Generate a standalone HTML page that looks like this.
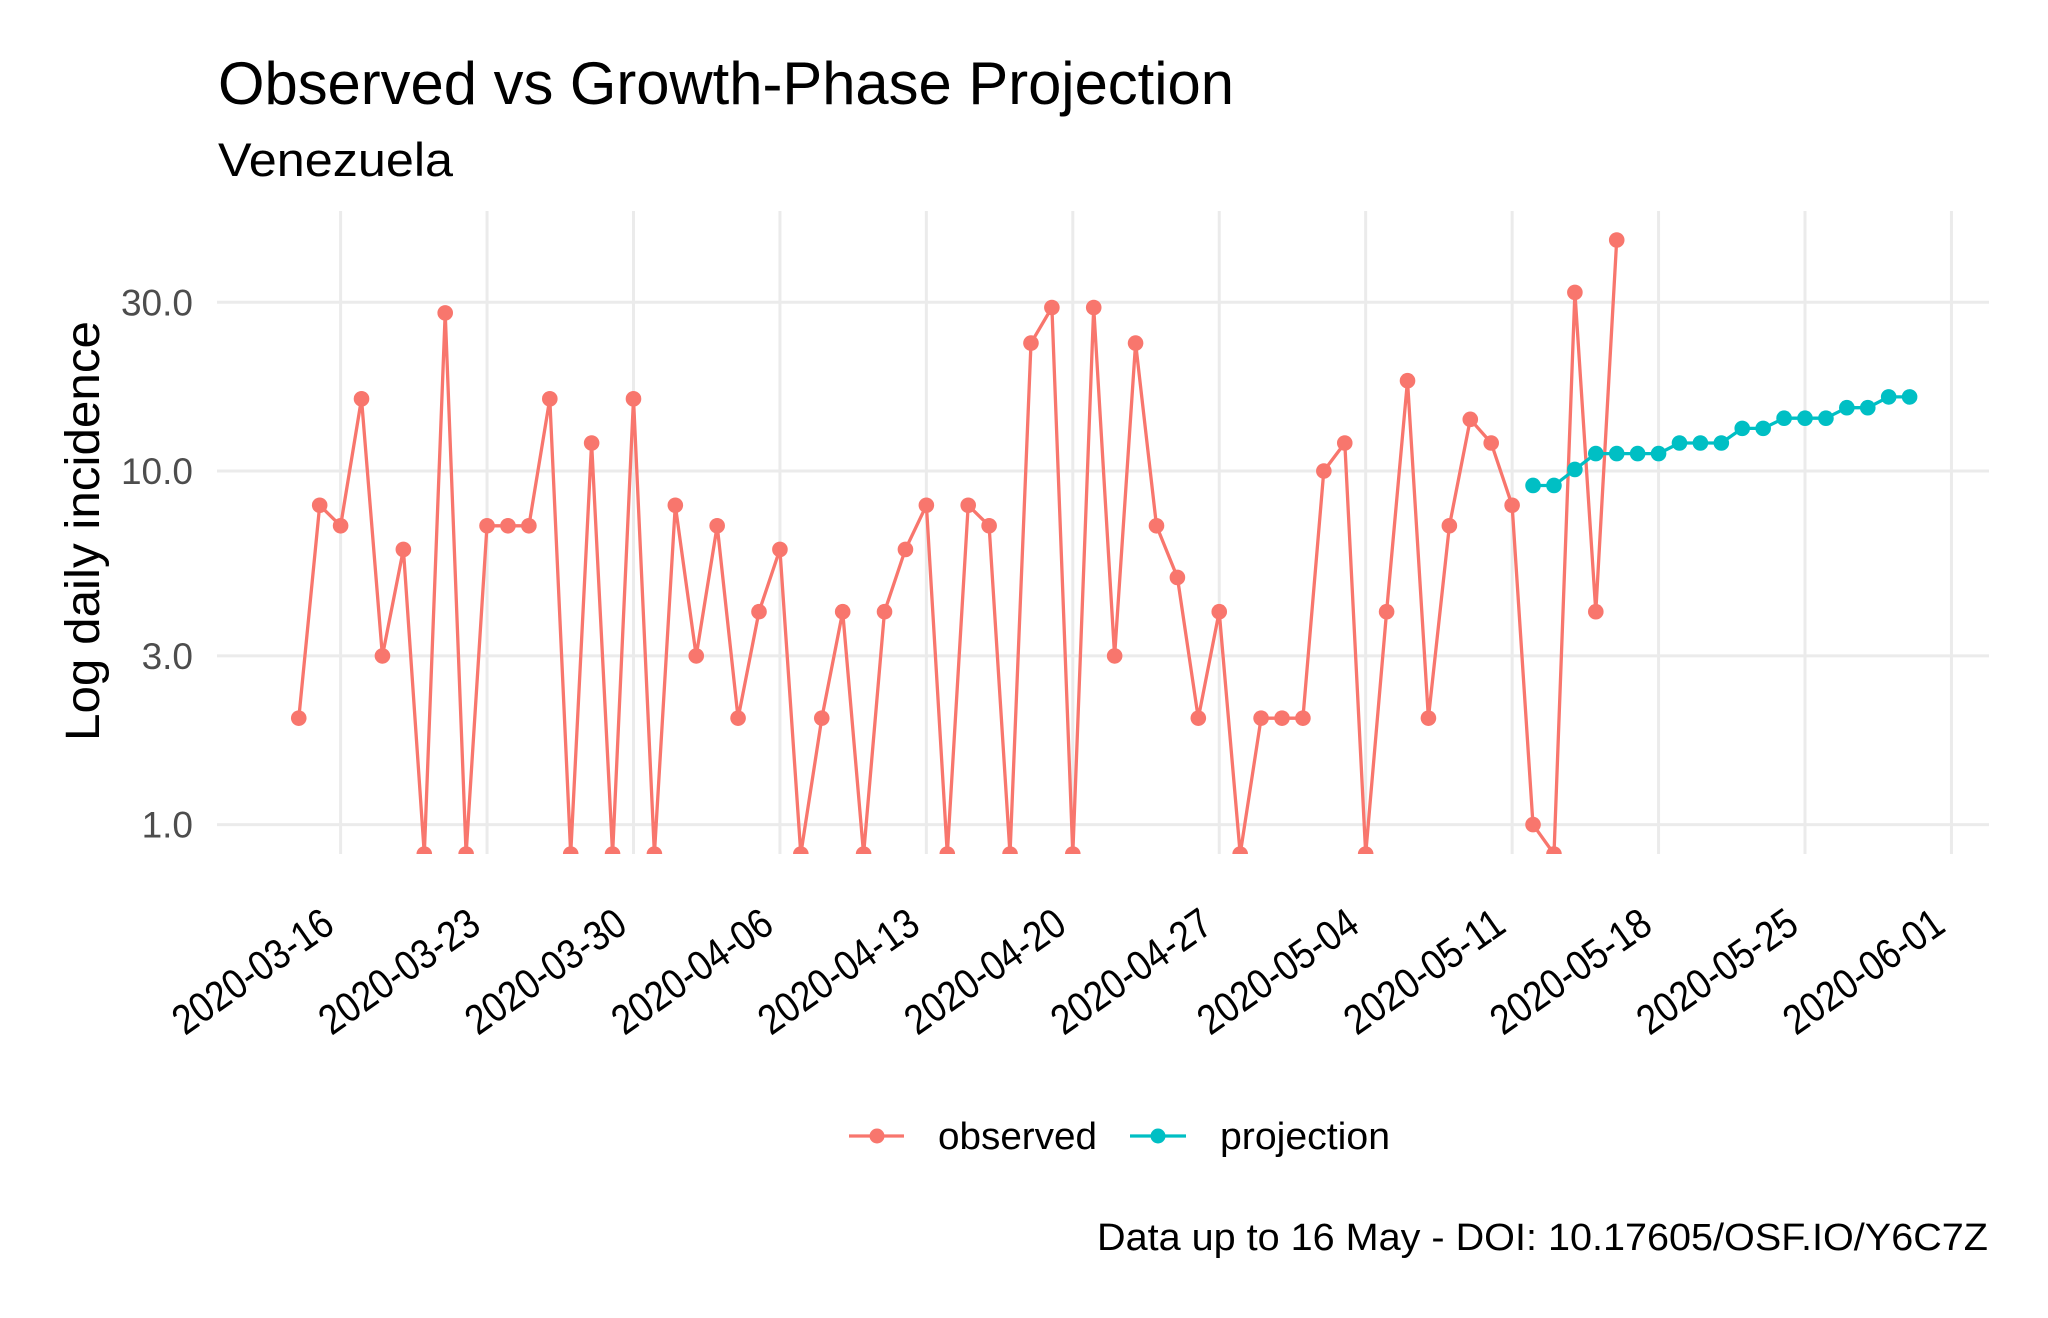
<!DOCTYPE html>
<html><head><meta charset="utf-8"><style>
html,body{margin:0;padding:0;background:#fff;}
svg{display:block;font-family:"Liberation Sans",Arial,sans-serif;}
</style></head><body>
<svg id="chart" width="2048" height="1318" viewBox="0 0 2048 1318">
<defs><clipPath id="pc"><rect x="217" y="205" width="1772" height="649"/></clipPath></defs>
<text x="218" y="104" font-size="60" fill="#000" textLength="1016" lengthAdjust="spacingAndGlyphs">Observed vs Growth-Phase Projection</text>
<text x="218" y="176" font-size="47" fill="#000" textLength="235" lengthAdjust="spacingAndGlyphs">Venezuela</text>
<g id="grid"></g>
<g id="yticks"></g>
<g id="xticks"></g>
<text transform="translate(99,531) rotate(-90)" text-anchor="middle" font-size="48" fill="#000" textLength="420" lengthAdjust="spacingAndGlyphs">Log daily incidence</text>
<g id="series" clip-path="url(#pc)"></g>
<g>
<g>
<line x1="849" y1="1136" x2="904" y2="1136" stroke="#F8766D" stroke-width="3.3"/>
<circle cx="877" cy="1136" r="7.5" fill="#F8766D"/>
<text x="938" y="1149" font-size="38" fill="#000" textLength="159" lengthAdjust="spacingAndGlyphs">observed</text>
</g>
<g>
<line x1="1130" y1="1136" x2="1186" y2="1136" stroke="#00BFC4" stroke-width="3.3"/>
<circle cx="1158" cy="1136" r="7.5" fill="#00BFC4"/>
<text x="1220" y="1149" font-size="38" fill="#000" textLength="170" lengthAdjust="spacingAndGlyphs">projection</text>
</g>
</g>
<text x="1988" y="1250" text-anchor="end" font-size="38" fill="#000" textLength="891" lengthAdjust="spacingAndGlyphs">Data up to 16 May - DOI: 10.17605/OSF.IO/Y6C7Z</text>
</svg>
<script>
// day offsets relative to 2020-03-16
const obsStartDay = -2;
const observed = [2,8,7,16,3,6,0,28,0,7,7,7,16,0,12,0,16,0,8,3,7,2,4,6,0,2,4,0,4,6,8,0,8,7,0,23,29,0,29,3,23,7,5,2,4,0,2,2,2,10,12,0,4,18,2,7,14,12,8,1,0,32,4,45];
const projStartDay = 57;
const projection = [9.1,9.1,10.1,11.2,11.2,11.2,11.2,12,12,12,13.2,13.2,14.1,14.1,14.1,15.1,15.1,16.2,16.2];
const yTickVals = [1,3,10,30];
const yTickLabels = ["1.0","3.0","10.0","30.0"];
const xTickDays = [0,7,14,21,28,35,42,49,56,63,70,77];
const xTickLabels = ["2020-03-16","2020-03-23","2020-03-30","2020-04-06","2020-04-13","2020-04-20","2020-04-27","2020-05-04","2020-05-11","2020-05-18","2020-05-25","2020-06-01"];

const NS = "http://www.w3.org/2000/svg";
const PL = 217, PR = 1989, PT = 211, PB = 854;
function xs(d){ return 340.6 + d * 20.92; }
function ys(v){ if (v <= 0) return PB; return 824.6 - Math.log10(v) * 353.6; }
function mk(tag, attrs, parent){ const e = document.createElementNS(NS, tag); for (const k in attrs) e.setAttribute(k, attrs[k]); parent.appendChild(e); return e; }

const grid = document.getElementById('grid');
yTickVals.forEach((v, i) => {
  const l = mk('line', {x1: PL, x2: PR, y1: ys(v), y2: ys(v), stroke: '#EBEBEB', 'stroke-width': 3}, grid);
  
  
  const t = mk('text', {x: 193, y: ys(v) + 13, 'text-anchor': 'end', 'font-size': 37, fill: '#4D4D4D'}, document.getElementById('yticks'));
  t.textContent = yTickLabels[i];
  
  
});
xTickDays.forEach((d, i) => {
  const l = mk('line', {x1: xs(d), x2: xs(d), y1: PT, y2: PB, stroke: '#EBEBEB', 'stroke-width': 3}, grid);
  
  
  const ax = xs(d) - 4, ay = 930;
  const t = mk('text', {x: 0, y: 0, transform: `translate(${ax},${ay}) rotate(-35)`, 'text-anchor': 'end', 'font-size': 42, fill: '#000', textLength: 185, lengthAdjust: 'spacingAndGlyphs'}, document.getElementById('xticks'));
  t.textContent = xTickLabels[i];
  
  
});

const series = document.getElementById('series');
function drawSeries(vals, start, color, name){
  const pts = vals.map((v, i) => xs(start + i).toFixed(1) + ',' + ys(v).toFixed(1)).join(' ');
  const pl = mk('polyline', {points: pts, fill: 'none', stroke: color, 'stroke-width': 3.3, 'stroke-linejoin': 'round'}, series);
  
  
  vals.forEach((v, i) => {
    const c = mk('circle', {cx: xs(start + i), cy: ys(v), r: 7.8, fill: color}, series);
    
    
  });
}
drawSeries(observed, obsStartDay, '#F8766D', 'observed');
drawSeries(projection, projStartDay, '#00BFC4', 'projection');
</script>
</body></html>
